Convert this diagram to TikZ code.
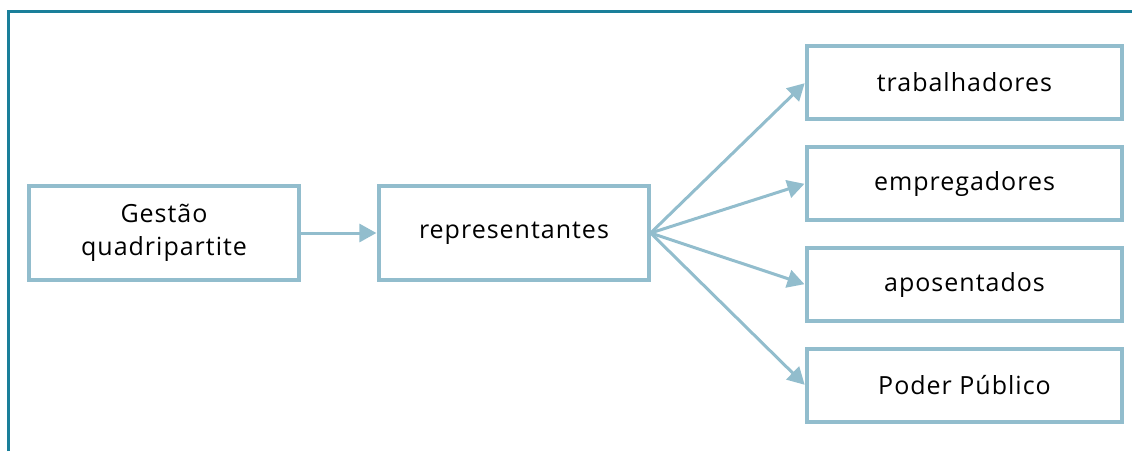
\documentclass[tikz,border=0pt]{standalone}
\usepackage{fontspec}
\setmainfont{Open Sans}[LetterSpace=4]
\usetikzlibrary{arrows.meta}
\definecolor{frame}{HTML}{1A7F9A}
\definecolor{boxc}{HTML}{92BDCD}
\tikzset{
  box/.style={draw=boxc, line width=3.2pt, minimum width=270pt, minimum height=94pt, inner sep=0pt, align=center, font=\fontsize{25}{33}\selectfont},
  rbox/.style={box, minimum width=315pt, minimum height=73pt},
  arr/.style={draw=boxc, line width=3pt, -{Triangle[length=17pt,width=18pt]}, shorten >=1pt}
}
\begin{document}
\begin{tikzpicture}[x=1pt,y=-1pt]
\useasboundingbox (0,0) rectangle (1132,451);
\draw[frame, line width=3.5pt] (8.5,451) -- (8.5,11.5) -- (1132,11.5);
\node[box] (g) at (164,233) {Gestão\\quadripartite};
\node[box] (r) at (514,233) {representantes};
\node[rbox] (t) at (964.5,82.5) {trabalhadores};
\node[rbox] (e) at (964.5,183.5) {empregadores};
\node[rbox] (a) at (964.5,284.5) {aposentados};
\node[rbox] (p) at (964.5,385.5) {Poder Público};
\draw[arr] (g.east) -- (r.west);
\foreach \n in {t,e,a,p} \draw[arr] (r.east) -- (\n.west);
\end{tikzpicture}
\end{document}
